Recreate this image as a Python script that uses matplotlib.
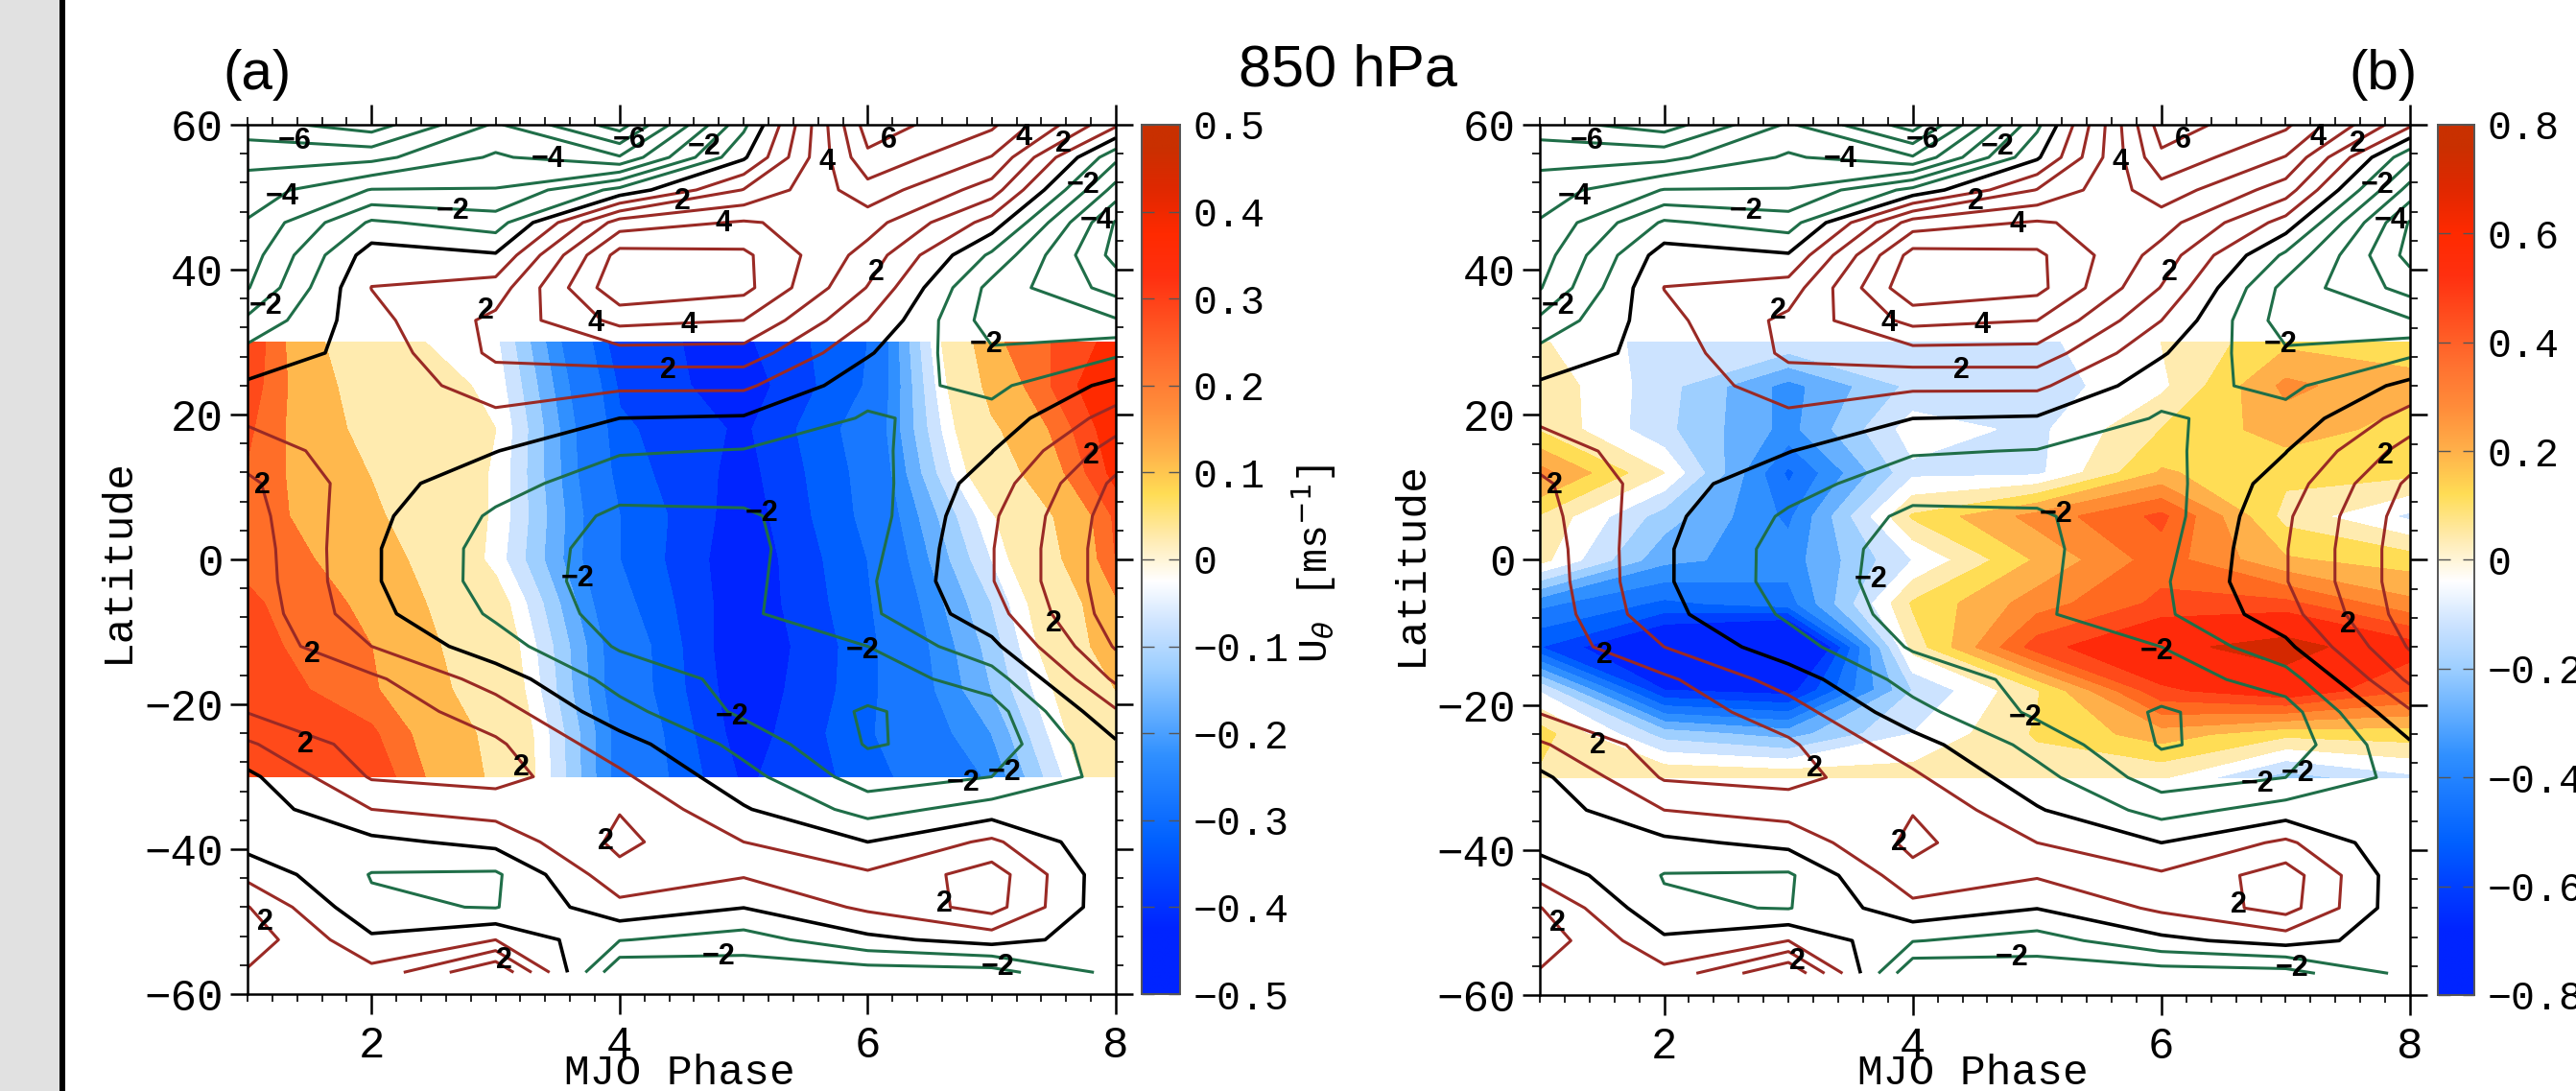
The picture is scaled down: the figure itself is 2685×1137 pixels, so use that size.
import numpy as np
import matplotlib
matplotlib.use('Agg')
from matplotlib import pyplot as plt
from matplotlib import colors
from matplotlib.patches import Rectangle
from matplotlib.ticker import FixedLocator

plt.rcParams['mathtext.fontset'] = 'dejavusans'

# zonal wind (contours, shared by both panels), m/s, one list per MJO phase, north to south
wind_lat = [60, 55.5, 51, 46.5, 42, 37.5, 33, 28.5, 24, 19.5, 15, 10.5, 6, 1.5, -3, -7.5, -12,
            -16.5, -21, -25.5, -30, -34.5, -39, -43.5, -48, -52.5, -57]
wind_p1 = [-6.6, -5.3, -4.55, -3.92, -3.5, -3.07, -1.8, -.67, .15, .83, 1.53, 2.2, 2.4, 2.55, 2.6, 2.7, 2.75,
           2.6, 2.05, .86, -.25, -.6, -.4, .69, 2.05, 2.6, 1.9]
wind_p2 = [-7.5, -5.3, -2.95, -.85, .5, 1.02, .7, .4, .35, .35, .4, .4, .25, .12, .12, .29, 1.0,
           2.2, 2.6, 2.5, 2.1, 1, -.25, -1.05, -.85, .2, 1.3]
wind_p3 = [-4.85, -3.85, -2.95, -1.5, .1, 1.45, 2.25, 2.2, 1.5, .76, .03, -.61, -1.15, -1.39, -1.4, -1.15, -.6,
           .55, 1.5, 2.15, 2.35, 1.4, .3, -1.15, -1.05, 1.0, 4]
wind_p4 = [-7.5, -4.9, -.7, 3.47, 5.4, 5.8, 4.3, 2.6, 1.2, 0, -.9, -1.6, -2.2, -2.4, -2.45, -2.4, -2.1,
           -1.4, -.65, .45, 1.2, 1.95, 2.25, 1.7, .7, -.95, -2.9]
wind_p5 = [-1.25, -.15, 2.05, 4.1, 5.2, 5.3, 4, 2.6, 1.2, -.1, -1.05, -1.7, -2.1, -2.2, -2.2, -2.15, -2.3,
           -2.3, -2.2, -1.35, -.65, .1, 1, 1.1, .03, -1.45, -2.6]
wind_p6 = [6.5, 5.8, 4.6, 3.45, 2.6, 1.95, 1, .1, -.65, -1.1, -1.25, -1.4, -1.45, -1.3, -1.15, -1.2, -2,
           -2.55, -3.1, -3.08, -2.5, -1.4, 0, 1.15, 1.2, -.25, -2.5]
wind_p7 = [5.2, 3.95, 2.5, .6, -1.2, -2.35, -2.5, -1.85, -1.25, -.65, -.03, .5, .85, .95, .95, .6, -.25,
           -1.5, -2.45, -2.6, -2, -.55, 1.2, 2.5, 2.4, .4, -2.4]
wind_p8 = [1.2, -1.75, -3.4, -5.1, -5.35, -4.4, -2.9, -1.2, .3, 1.45, 2.45, 3.2, 3.5, 3.6, 3.6, 3.5, 3.1,
           2.2, .88, -.15, -.63, -.9, -.95, -.85, -.85, -.53, -.7]

# U_theta shading, one list per MJO phase, north to south
shade_lat = [30, 24, 18, 12, 6, 0, -6, -12, -18, -24, -30]
shade_a_p1 = [.345, .33, .31, .295, .29, .285, .31, .32, .34, .345, .345]
shade_a_p2 = [.03, .08, .11, .145, .17, .22, .235, .25, .26, .31, .34]
shade_a_p3 = [-.04, -.02, 0, -.01, -.012, -.024, .04, .07, .09, .12, .13]
shade_a_p4 = [-.44, -.41, -.39, -.375, -.35, -.35, -.33, -.3, -.3, -.28, -.28]
shade_a_p5 = [-.46, -.48, -.46, -.47, -.48, -.49, -.49, -.5, -.49, -.48, -.46]
shade_a_p6 = [-.35, -.345, -.32, -.33, -.335, -.35, -.36, -.37, -.37, -.36, -.38]
shade_a_p7 = [.235, .19, .13, .08, -.01, -.05, -.10, -.13, -.15, -.2, -.24]
shade_a_p8 = [.37, .42, .39, .37, .31, .3, .24, .22, .15, .13, .09]

shade_b_p1 = [.01, .06, .07, .27, .07, .03, -.38, -.56, -.09, .12, .06]
shade_b_p2 = [-.12, -.13, -.14, 0, -.2, -.3, -.5, -.8, -.64, -.2, .08]
shade_b_p3 = [-.1, -.35, -.35, -.5, -.42, -.36, -.44, -1.0, -.68, -.28, .06]
shade_b_p4 = [-.1, -.14, -.04, -.1, .09, -.08, .09, .03, -.16, -.08, .04]
shade_b_p5 = [-.1, -.12, -.1, -.1, .27, .17, .28, .44, .07, .09, .03]
shade_b_p6 = [0, -.02, .08, .17, .42, .36, .42, .6, .46, .2, .01]
shade_b_p7 = [.14, .26, .2, .1, .05, .17, .42, .7, .55, .1, -.2]
shade_b_p8 = [.13, .18, .13, .1, -.1, .12, .26, .52, .4, .12, -.1]

phases = [1, 2, 3, 4, 5, 6, 7, 8]
neg_levels = [-8, -7, -6, -5, -4, -3, -2, -1]
pos_levels = [1, 2, 3, 4, 5, 6]

levels_a = [-.5, -.45, -.4, -.35, -.25, -.2, -.15, -.1, -.05, 0, .15, .25, .3, .35, .5]
fills_a = ['#0024FF', '#0040FF', '#0060FF', '#1878FF', '#3090FF', '#66B0FF', '#9ECFFF', '#CCE3FF', '#FFFFFF',
           '#FFEBAF', '#FFB84D', '#FF6E28', '#FF4A1A', '#FF2A00']
levels_b = [-.8, -.64, -.56, -.48, -.4, -.32, -.24, -.16, -.08, 0, .08, .16, .24, .32, .4, .48, .64, .8]
fills_b = ['#0024FF', '#0040FF', '#0060FF', '#1878FF', '#3090FF', '#66B0FF', '#9ECFFF', '#CCE3FF', '#FFFFFF',
           '#FFEBAF', '#FFDD55', '#FFB04A', '#FF8C33', '#FF6A20', '#FF4A1A', '#FF2A0A', '#D42800']
bar_fills = ['#0024FF', '#0024FF', '#0040FF', '#0060FF', '#1878FF', '#3090FF', '#66B0FF', '#9ECFFF', '#CCE3FF',
             '#FFFFFF', '#FFEBAF', '#FFDD55', '#FFB04A', '#FF8C3A', '#FF7030', '#FF5020', '#FF3010', '#FF2A00',
             '#E02800', '#C93000']

label_2_phase = [1.12, 1.52, 1.47, 3.21, 2.92, 4.51, 4.39, 6.07, 7.58, 7.8, 7.5, 3.89, 6.62, 1.14, 3.07]
label_2_lat = [10.2, -13.1, -25.6, -28.8, 34.3, 49.4, 26.1, 39.6, 57.3, 14.3, -8.9, -39, -47.5, -50.1, -55.4]
label_4_phase = [3.81, 4.56, 4.84, 5.67, 7.26]
label_4_lat = [32.6, 32.3, 46.3, 54.9, 58.3]
label_6_phase = [6.17]
label_6_lat = [57.9]
label_m2_phase = [4.68, 2.66, 1.15, 7.74, 6.96, 5.15, 3.66, 5.96, 4.91, 6.77, 7.1, 4.8, 7.05]
label_m2_lat = [56.9, 48.1, 35, 51.6, 29.7, 6.3, -2.7, -12.6, -21.7, -30.9, -29.4, -54.9, -56.3]
label_m4_phase = [3.42, 1.28, 7.85]
label_m4_lat = [55.2, 50.1, 46.8]
label_m6_phase = [1.38, 4.08]
label_m6_lat = [57.8, 57.9]

W, H = 2685, 1137
RED = '#9A2A25'
GREEN = '#1F6E48'
MONO = 'Liberation Mono'
SANS = 'Liberation Sans'


def rect(left, top, right, bottom):
    return [left / W, 1 - bottom / H, (right - left) / W, (bottom - top) / H]


def draw_panel(fig, box, shade, levels, fills):
    ax = fig.add_axes(rect(*box))
    filled = ax.contourf(phases, shade_lat, shade, levels=levels, colors=fills, extend='both', zorder=1)
    # no white seams between the bands
    filled.set_edgecolor('face')
    filled.set_linewidth(0.6)
    ax.contour(phases, wind_lat, wind, levels=neg_levels, colors=GREEN, linewidths=2.2, linestyles='solid', zorder=2)
    ax.contour(phases, wind_lat, wind, levels=pos_levels, colors=RED, linewidths=2.2, zorder=2)
    ax.contour(phases, wind_lat, wind, levels=[0], colors='black', linewidths=2.6, zorder=3)
    ax.set_xlim(1, 8)
    ax.set_ylim(-60, 60)
    ax.set_xticks([2, 4, 6, 8])
    ax.set_xticklabels(['2', '4', '6', '8'], family=MONO, fontsize=33)
    ax.set_yticks([-60, -40, -20, 0, 20, 40, 60])
    ax.set_yticklabels(['\u221260', '\u221240', '\u221220', '0', '20', '40', '60'], family=MONO, fontsize=33)
    ax.xaxis.set_minor_locator(FixedLocator(np.arange(1, 8.01, 0.2)))
    ax.yaxis.set_minor_locator(FixedLocator(np.arange(-60, 60.01, 4)))
    ax.tick_params(axis='x', which='major', top=True, direction='out', length=15, width=1.8, pad=8)
    ax.tick_params(axis='y', which='major', right=True, direction='out', length=13, width=1.8, pad=5)
    ax.tick_params(which='minor', top=True, right=True, direction='out', length=6, width=1.2)
    for spine in ax.spines.values():
        spine.set_linewidth(1.8)
    for txt, xs, ys in [('2', label_2_phase, label_2_lat), ('4', label_4_phase, label_4_lat),
                        ('6', label_6_phase, label_6_lat), ('\u22122', label_m2_phase, label_m2_lat),
                        ('\u22124', label_m4_phase, label_m4_lat), ('\u22126', label_m6_phase, label_m6_lat)]:
        for x, y in zip(xs, ys):
            ax.text(x, y, txt, family=SANS, fontsize=22, weight='bold', ha='center', va='center',
                    color='black', zorder=5)
    return ax


def draw_bar(fig, box, top_value, ticks, labels):
    cax = fig.add_axes(rect(*box))
    bounds = np.linspace(-top_value, top_value, 21)
    norm = colors.BoundaryNorm(bounds, 20)
    cmap = colors.ListedColormap(bar_fills)
    mids = (bounds[:-1] + bounds[1:]) / 2
    # the reference bar is soft between its bands
    cax.imshow(mids[::-1].reshape(-1, 1), cmap=cmap, norm=norm, aspect='auto',
               extent=(0, 1, -top_value, top_value), interpolation='bilinear', interpolation_stage='rgba')
    cax.set_xticks([])
    cax.set_yticks(ticks)
    cax.set_yticklabels(labels, family=MONO, fontsize=30)
    cax.yaxis.tick_right()
    cax.tick_params(axis='y', left=True, right=True, direction='in', length=9, width=1, color='#555555', pad=10)
    for spine in cax.spines.values():
        spine.set_edgecolor('#555555')
        spine.set_linewidth(1.4)
    return cax


wind = np.array([wind_p1, wind_p2, wind_p3, wind_p4, wind_p5, wind_p6, wind_p7, wind_p8]).T
shade_a = np.array([shade_a_p1, shade_a_p2, shade_a_p3, shade_a_p4,
                    shade_a_p5, shade_a_p6, shade_a_p7, shade_a_p8]).T
shade_b = np.array([shade_b_p1, shade_b_p2, shade_b_p3, shade_b_p4,
                    shade_b_p5, shade_b_p6, shade_b_p7, shade_b_p8]).T

fig = plt.figure(figsize=(W / 100, H / 100), dpi=100, facecolor='white')

# grey strip and black rule on the left edge of the page
fig.add_artist(Rectangle((0, 0), 62 / W, 1, transform=fig.transFigure, facecolor='#E1E1E1', edgecolor='none'))
fig.add_artist(Rectangle((62 / W, 0), 6 / W, 1, transform=fig.transFigure, facecolor='black', edgecolor='none'))

draw_panel(fig, (258, 130, 1163, 1036), shade_a, levels_a, fills_a)
draw_panel(fig, (1605, 130, 2512, 1037), shade_b, levels_b, fills_b)

ticks_a = [-.5, -.4, -.3, -.2, -.1, 0, .1, .2, .3, .4, .5]
labels_a = ['\u22120.5', '\u22120.4', '\u22120.3', '\u22120.2', '\u22120.1', '0', '0.1', '0.2', '0.3', '0.4', '0.5']
ticks_b = [-.8, -.6, -.4, -.2, 0, .2, .4, .6, .8]
labels_b = ['\u22120.8', '\u22120.6', '\u22120.4', '\u22120.2', '0', '0.2', '0.4', '0.6', '0.8']
draw_bar(fig, (1190, 130, 1230, 1036), .5, ticks_a, labels_a)
draw_bar(fig, (2541, 130, 2579, 1037), .8, ticks_b, labels_b)

fig.text(268 / W, 1 - 78 / H, '(a)', family=SANS, fontsize=42, ha='center', va='center')
fig.text(2484 / W, 1 - 78 / H, '(b)', family=SANS, fontsize=42, ha='center', va='center')
fig.text(1405 / W, 1 - 74 / H, '850 hPa', family=SANS, fontsize=44, ha='center', va='center')

fig.text(122 / W, 1 - 584 / H, 'Latitude', family=MONO, fontsize=32, rotation=90, ha='center', va='center')
fig.text(1470 / W, 1 - 587 / H, 'Latitude', family=MONO, fontsize=32, rotation=90, ha='center', va='center')
fig.text(708 / W, 1 - 1119 / H, 'MJO Phase', family=MONO, fontsize=32, ha='center', va='center')
fig.text(2056 / W, 1 - 1119 / H, 'MJO Phase', family=MONO, fontsize=32, ha='center', va='center')
fig.text(1370 / W, 1 - 587 / H, r'U$_{\theta}$ [ms$^{-1}$]', family=MONO, fontsize=30, rotation=90,
         ha='center', va='center')

fig.savefig('out.png', dpi=100)
